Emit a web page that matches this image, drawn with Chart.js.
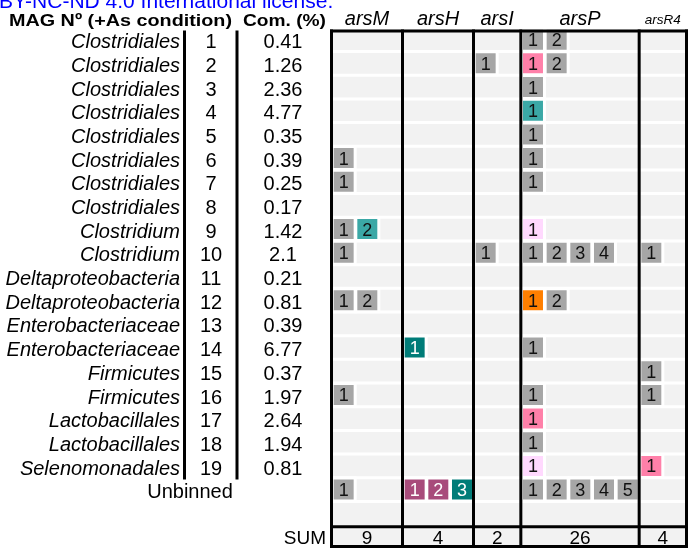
<!DOCTYPE html>
<html>
<head>
<meta charset="utf-8">
<script src="https://cdn.jsdelivr.net/npm/chart.js@4.4.1/dist/chart.umd.min.js"></script>
<style>
  html, body { margin: 0; padding: 0; background: #fff; }
  canvas { display: block; }
</style>
</head>
<body>
<canvas id="grafico" width="690" height="549"></canvas>
<script>
const taxones = ['Clostridiales', 'Clostridiales', 'Clostridiales', 'Clostridiales', 'Clostridiales',
  'Clostridiales', 'Clostridiales', 'Clostridiales', 'Clostridium', 'Clostridium',
  'Deltaproteobacteria', 'Deltaproteobacteria', 'Enterobacteriaceae', 'Enterobacteriaceae',
  'Firmicutes', 'Firmicutes', 'Lactobacillales', 'Lactobacillales', 'Selenomonadales'];
const numerosMag = [1, 2, 3, 4, 5, 6, 7, 8, 9, 10, 11, 12, 13, 14, 15, 16, 17, 18, 19];
const comunidad = ['0.41', '1.26', '2.36', '4.77', '0.35', '0.39', '0.25', '0.17', '1.42', '2.1',
  '0.21', '0.81', '0.39', '6.77', '0.37', '1.97', '2.64', '1.94', '0.81'];
const genes = ['arsM', 'arsH', 'arsI', 'arsP', 'arsR4'];
const huecosGen = [3, 3, 2, 5, 2];
const sumas = [9, 4, 2, 26, 4];

// una lista por fila (MAG 1-19 y Unbinned); un codigo de color por copia del gen
const arsM = [[], [], [], [], [], ['g'], ['g'], [], ['g', 't'], ['g'], [], ['g', 'g'], [], [], [], ['g'], [], [], [], ['g']];
const arsH = [[], [], [], [], [], [], [], [], [], [], [], [], [], ['d'], [], [], [], [], [], ['m', 'm', 'd']];
const arsI = [[], ['g'], [], [], [], [], [], [], [], ['g'], [], [], [], [], [], [], [], [], [], []];
const arsP = [['g', 'g'], ['p', 'g'], ['g'], ['t'], ['g'], ['g'], ['g'], [], ['l'], ['g', 'g', 'g', 'g'], [],
  ['o', 'g'], [], ['g'], [], ['g'], ['p'], ['g'], ['l'], ['g', 'g', 'g', 'g', 'g']];
const arsR4 = [[], [], [], [], [], [], [], [], [], ['g'], [], [], [], [], ['g'], ['g'], [], [], ['p'], []];

const colores = { g: '#a6a6a6', p: '#ff80a9', t: '#3ba8a6', l: '#ffd9fe', o: '#ff7f00', m: '#a84b7b', d: '#007c78' };
const textoBlanco = ['m', 'd'];

const FUENTE = '"Liberation Sans", Arial, Helvetica, sans-serif';
const FIN_SUM = 21.854;
const AJUSTE_Y = -0.07;
const AJUSTE_X = -0.05;

const filasGen = [arsM, arsH, arsI, arsP, arsR4];
const limites = [0];
const puntos = [];
let inicio = 0;
filasGen.forEach(function (filas, g) {
  filas.forEach(function (copias, fila) {
    copias.forEach(function (codigo, k) {
      puntos.push({ x: inicio + k + 0.5 + AJUSTE_X, y: fila + 0.5 + AJUSTE_Y, n: k + 1, c: codigo });
    });
  });
  inicio += huecosGen[g];
  limites.push(inicio);
});

function textoAncho(ctx, texto, x, y, ancho) {
  const w = ctx.measureText(texto).width;
  ctx.save();
  ctx.translate(x, y);
  ctx.scale(ancho / w, 1);
  ctx.fillText(texto, 0, 0);
  ctx.restore();
}

const tablaPlugin = {
  id: 'tabla',
  beforeDatasetsDraw: function (chart) {
    const ctx = chart.ctx;
    const sx = chart.scales.x;
    const sy = chart.scales.y;
    const x0 = sx.getPixelForValue(0);
    const x1 = sx.getPixelForValue(limites[limites.length - 1]);
    const y0 = sy.getPixelForValue(0);
    const y1 = sy.getPixelForValue(FIN_SUM);
    ctx.save();
    ctx.fillStyle = '#f2f2f2';
    ctx.fillRect(x0, y0, x1 - x0, y1 - y0);
    // separadores blancos entre filas
    ctx.strokeStyle = '#ffffff';
    ctx.lineWidth = 3;
    for (let i = 1; i < 21; i++) {
      const yy = sy.getPixelForValue(i + AJUSTE_Y);
      ctx.beginPath();
      ctx.moveTo(x0, yy);
      ctx.lineTo(x1, yy);
      ctx.stroke();
    }
    ctx.restore();
  },
  afterDatasetsDraw: function (chart) {
    const ctx = chart.ctx;
    const sx = chart.scales.x;
    const sy = chart.scales.y;
    const x0 = sx.getPixelForValue(0);
    const x1 = sx.getPixelForValue(limites[limites.length - 1]);
    const y0 = sy.getPixelForValue(0);
    const y21 = sy.getPixelForValue(21);
    const y1 = sy.getPixelForValue(FIN_SUM);
    ctx.save();

    // numeros dentro de las cajas
    const meta = chart.getDatasetMeta(0);
    ctx.font = '18px ' + FUENTE;
    ctx.textAlign = 'center';
    ctx.textBaseline = 'alphabetic';
    meta.data.forEach(function (el, i) {
      const p = puntos[i];
      ctx.fillStyle = textoBlanco.indexOf(p.c) >= 0 ? '#ffffff' : '#111111';
      ctx.fillText(String(p.n), el.x, el.y + 6.5);
    });

    // lineas negras
    ctx.strokeStyle = '#000000';
    ctx.lineWidth = 3;
    limites.forEach(function (v) {
      const xx = sx.getPixelForValue(v) - 1.5;
      ctx.beginPath();
      ctx.moveTo(xx, y0);
      ctx.lineTo(xx, y1 + 1);
      ctx.stroke();
    });
    [y0 + 1.5, y21, y1 - 0.5].forEach(function (yy) {
      ctx.beginPath();
      ctx.moveTo(x0 - 3, yy);
      ctx.lineTo(x1, yy);
      ctx.stroke();
    });
    const y19 = sy.getPixelForValue(19);
    [184.5, 237].forEach(function (xx) {
      ctx.beginPath();
      ctx.moveTo(xx, y0 + 1);
      ctx.lineTo(xx, y19);
      ctx.stroke();
    });

    // textos
    ctx.fillStyle = '#0000ff';
    ctx.textAlign = 'left';
    ctx.font = '21px ' + FUENTE;
    ctx.fillText('BY-NC-ND 4.0 International license.', -1, 7.5);

    ctx.fillStyle = '#000000';
    ctx.font = 'bold 17px ' + FUENTE;
    textoAncho(ctx, 'MAG Nº (+As condition)', 9, 26, 223);
    textoAncho(ctx, 'Com. (%)', 243, 26, 83);

    ctx.textAlign = 'center';
    genes.forEach(function (gen, g) {
      const xc = sx.getPixelForValue((limites[g] + limites[g + 1]) / 2) - 1.5;
      ctx.font = (gen === 'arsR4' ? 'italic 13.5px ' : 'italic 20px ') + FUENTE;
      ctx.fillText(gen, xc, gen === 'arsR4' ? 24 : 25);
      ctx.font = '19px ' + FUENTE;
      ctx.fillText(String(sumas[g]), xc, (y21 + y1) / 2 + 7);
    });

    taxones.forEach(function (taxon, i) {
      const yy = sy.getPixelForValue(i + 0.5) + 7;
      ctx.font = 'italic 20px ' + FUENTE;
      ctx.textAlign = 'right';
      ctx.fillText(taxon, 180, yy);
      ctx.font = '20px ' + FUENTE;
      ctx.textAlign = 'center';
      ctx.fillText(String(numerosMag[i]), 211, yy);
      ctx.fillText(comunidad[i], 283, yy);
    });
    ctx.font = '20px ' + FUENTE;
    ctx.textAlign = 'center';
    ctx.fillText('Unbinned', 190, sy.getPixelForValue(19.5) + 7);
    ctx.textAlign = 'right';
    ctx.font = '19px ' + FUENTE;
    ctx.fillText('SUM', 326, (y21 + y1) / 2 + 7);
    ctx.restore();
  }
};

new Chart(document.getElementById('grafico'), {
  type: 'scatter',
  data: {
    datasets: [{
      data: puntos,
      pointStyle: 'rect',
      pointRadius: 16.26,
      pointHoverRadius: 16.26,
      backgroundColor: function (c) { return c.raw ? colores[c.raw.c] : '#a6a6a6'; },
      borderColor: '#ffffff',
      borderWidth: 3,
      clip: false
    }]
  },
  options: {
    responsive: false,
    animation: false,
    devicePixelRatio: 1,
    events: [],
    layout: { autoPadding: false, padding: { left: 333, right: 2, top: 29.5, bottom: 2 } },
    scales: {
      x: { type: 'linear', min: 0, max: 15, display: false },
      y: { type: 'linear', min: 0, max: FIN_SUM, reverse: true, display: false }
    },
    plugins: {
      legend: { display: false },
      tooltip: { enabled: false }
    }
  },
  plugins: [tablaPlugin]
});
</script>
</body>
</html>
